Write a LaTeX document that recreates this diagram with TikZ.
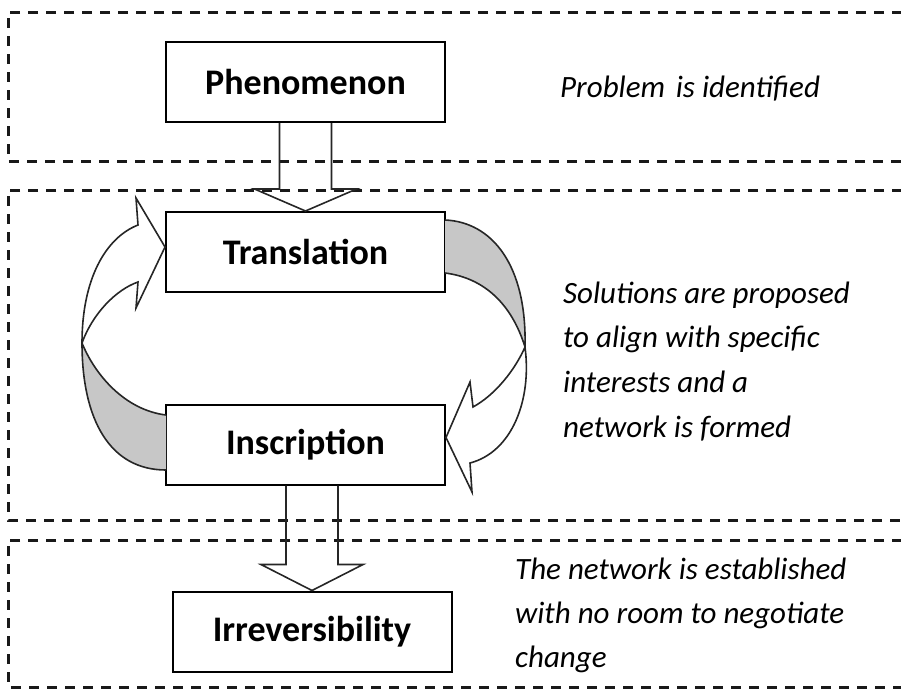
\documentclass[tikz,border=0pt]{standalone}
\usepackage{fontspec}
\setmainfont{Carlito}
\usetikzlibrary{calc}
\begin{document}
\begin{tikzpicture}[x=1pt,y=-1pt,
  stage/.style={draw=black, line width=2pt, fill=white, minimum width=279pt,
    minimum height=80pt, inner sep=0pt, font=\bfseries\fontsize{36}{40}\selectfont},
  zone/.style={draw=black!90, line width=3pt, dash pattern=on 10pt off 8pt},
  note/.style={anchor=base west, inner sep=0pt, font=\itshape\fontsize{31}{36}\selectfont},
  blockarrow/.style={draw=black!85, line width=1.6pt, line join=miter},
  loop/.style={draw=black!85, line width=1.6pt, line join=miter},
  twist/.style={fill=black!22}
]
\useasboundingbox (0,0) rectangle (901,688);
\clip (0,0) rectangle (901,688);

% dashed stage zones (open to the right)
\draw[zone] (920,12) -- (8,12) -- (8,161) -- (920,161);
\draw[zone] (920,190) -- (8,190) -- (8,520) -- (920,520);
\draw[zone] (920,540) -- (8,540) -- (8,687) -- (920,687);

% stage boxes
\node[stage] (phen)  at (305.5,82)    {Phenomenon};
\node[stage] (trans) at (305.5,252)   {Translation};
\node[stage] (insc)  at (305.5,444.5) {Inscription};
\node[stage] (irr)   at (312,631.5)   {Irreversibility};

% block arrow: Phenomenon -> Translation
\coordinate (a1l) at ($(trans.north)+(-26,-22)$);
\coordinate (a1r) at ($(trans.north)+(26,-22)$);
\draw[blockarrow] (phen.south -| a1l) -- (a1l) -- ++(-25,0) -- (trans.north)
  -- ($(a1r)+(25,0)$) -- (a1r) -- (phen.south -| a1r);

% block arrow: Inscription -> Irreversibility
\coordinate (a2l) at ($(irr.north)+(-26,-26)$);
\coordinate (a2r) at ($(irr.north)+(26,-26)$);
\draw[blockarrow] (insc.south -| a2l) -- (a2l) -- ++(-25,0) -- (irr.north)
  -- ($(a2r)+(25,0)$) -- (a2r) -- (insc.south -| a2r);

% curved arrow: Inscription -> Translation (left)
\coordinate (lA) at (166,470);
\coordinate (lB) at (166,415);
\coordinate (lX) at (82,343);
\coordinate (lO) at (138,225);
\coordinate (lI) at (138,282);
\coordinate (lW1) at (136,198);
\coordinate (lW2) at (136,308);
\coordinate (lT) at ($(trans.west)+(0,-5)$);
\fill[twist] (lA) .. controls (110,470) and (82,420) .. (lX)
  .. controls (95,375) and (125,410) .. (lB) -- cycle;
\draw[loop] (lA) .. controls (110,470) and (82,420) .. (lX)
  .. controls (82,280) and (105,238) .. (lO) -- (lW1) -- (lT) -- (lW2) -- (lI)
  .. controls (115,290) and (92,315) .. (lX)
  .. controls (95,375) and (125,410) .. (lB);

% curved arrow: Translation -> Inscription (right)
\coordinate (rA) at (445,220);
\coordinate (rB) at (445,273);
\coordinate (rX) at (525,347);
\coordinate (rO) at (470,463);
\coordinate (rI) at (473,407);
\coordinate (rW1) at (470,382);
\coordinate (rW2) at (472,492);
\coordinate (rT) at ($(insc.east)+(0,-7)$);
\fill[twist] (rA) .. controls (492,222) and (527,265) .. (rX)
  .. controls (512,305) and (485,278) .. (rB) -- cycle;
\draw[loop] (rA) .. controls (492,222) and (527,265) .. (rX)
  .. controls (532,400) and (512,452) .. (rO) -- (rW2) -- (rT) -- (rW1) -- (rI)
  .. controls (495,395) and (515,370) .. (rX)
  .. controls (512,305) and (485,278) .. (rB);

% stage descriptions
\node[note] (n1) at (560,97) {Problem\hspace{0.12em} is identified};
\node[note] (n2a) at (563,303)   {Solutions are proposed};
\node[note] (n2b) at (563,347.7) {to align with specific};
\node[note] (n2c) at (563,392.4) {interests and a};
\node[note] (n2d) at (563,437.1) {network is formed};
\node[note] (n3a) at (515,579) {The network is established};
\node[note] (n3b) at (515,623) {with no room to negotiate};
\node[note] (n3c) at (515,667) {change};
\end{tikzpicture}
\end{document}
